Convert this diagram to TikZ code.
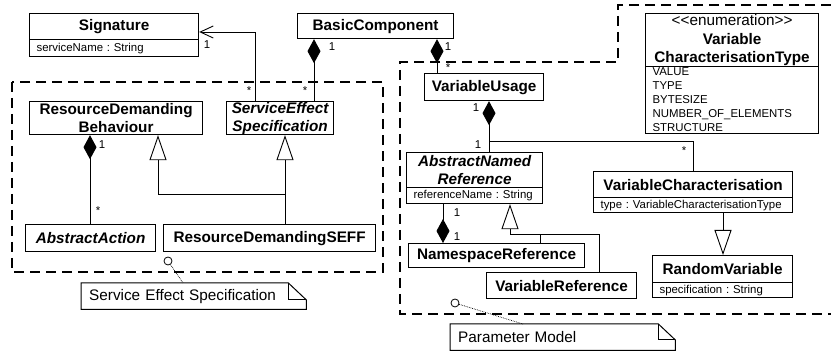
\documentclass[tikz,border=0pt]{standalone}
\usepackage{fontspec}
\setmainfont[Ligatures=NoCommon]{Liberation Sans}
\usetikzlibrary{arrows.meta,calc}
\newcommand\namefont{\fontsize{15.3}{18}\selectfont\bfseries}
\newcommand\attrfont{\fontsize{11.4}{14}\selectfont}
\newcommand\notefont{\fontsize{15.3}{18}\selectfont}
\frenchspacing
\begin{document}
\begin{tikzpicture}[x=1pt,y=-1pt,
  cls/.style={draw, line width=1.2pt, fill=white, inner sep=0pt, anchor=north west, font=\namefont, align=center},
  attr/.style={draw, line width=1.2pt, fill=white, inner xsep=7pt, inner ysep=0pt, anchor=north west, font=\attrfont, align=left},
  conn/.style={line width=0.9pt},
  comp/.style={conn, {Diamond[length=24pt,width=13pt]}-},
  compend/.style={conn, -{Diamond[length=24pt,width=13pt]}},
  gen/.style={conn, -{Triangle[open,length=25pt,width=17pt,fill=white]}},
  nav/.style={conn, -{Straight Barb[length=13pt,width=12pt]}},
  mult/.style={font=\attrfont, inner sep=0pt},
  frame/.style={line width=1.3pt, dash pattern=on 10pt off 6pt},
  pin/.style={circle, draw, line width=0.8pt, fill=white, minimum size=8pt, inner sep=0pt},
  pinline/.style={line width=0.7pt, densely dotted},
  notebox/.style={inner xsep=8pt, inner ysep=0pt, anchor=north west, font=\notefont, align=left},
  notedraw/.style={line width=1pt}
]
\useasboundingbox (0,0) rectangle (831,352);

% frames
\draw[frame] (12,82) rectangle (383,272);
\draw[frame] (831,5) -- (618,5) -- (618,62) -- (400,62) -- (400,314) -- (831,314);

% classes
\node[cls, minimum width=169pt, minimum height=26pt] (sig) at (29,13) {Signature};
\node[attr, text width=155pt, minimum height=17pt] (sigA) at (29,39) {serviceName : String};
\node[cls, minimum width=156pt, minimum height=25pt] (bc) at (297,13) {BasicComponent};
\node[cls, minimum width=173pt, minimum height=33pt] (rdb) at (29,101) {ResourceDemanding\\Behaviour};
\node[cls, minimum width=107pt, minimum height=33pt] (seff) at (226,101) {\itshape ServiceEffect\\\itshape Specification};
\node[cls, minimum width=130pt, minimum height=27pt] (aa) at (25,224) {\itshape AbstractAction};
\node[cls, minimum width=212pt, minimum height=27pt] (rdseff) at (163,224) {ResourceDemandingSEFF};
\node[cls, minimum width=119pt, minimum height=27pt] (vu) at (424,73) {VariableUsage};
\node[cls, minimum width=173pt, minimum height=53pt] (en) at (645,13) {{\mdseries\notefont \textless{}\textless{}enumeration\textgreater{}\textgreater}\\[1pt]Variable\\CharacterisationType};
\node[attr, text width=159pt, minimum height=67pt] (enA) at (645,66) {VALUE\\TYPE\\BYTESIZE\\NUMBER\_OF\_ELEMENTS\\STRUCTURE};
\node[cls, minimum width=136pt, minimum height=35pt] (anr) at (406,152) {\itshape AbstractNamed\\\itshape Reference};
\node[attr, text width=122pt, minimum height=16pt] (anrA) at (406,187) {referenceName : String};
\node[cls, minimum width=199pt, minimum height=26pt] (vc) at (593,171) {VariableCharacterisation};
\node[attr, text width=185pt, minimum height=15pt] (vcA) at (593,197) {type : VariableCharacterisationType};
\node[cls, minimum width=140pt, minimum height=27pt] (rv) at (652,255) {RandomVariable};
\node[attr, text width=126pt, minimum height=15pt] (rvA) at (652,282) {specification : String};
\node[cls, minimum width=176pt, minimum height=24pt] (nr) at (408,243) {NamespaceReference};
\node[cls, minimum width=150pt, minimum height=26pt] (vr) at (486,272) {VariableReference};

% connectors
\draw[nav] ($(seff.north west)+(29,0)$) |- ($(sig.north east)+(0,19)$);
\coordinate (a1) at ($(bc.south west)+(17,0)$);
\draw[comp] (a1) -- (a1 |- seff.north);
\coordinate (a2) at ($(bc.south west)+(140,0)$);
\draw[comp] (a2) -- (a2 |- vu.north);
\coordinate (a3) at ($(rdb.south west)+(61,0)$);
\draw[comp] (a3) -- (a3 |- aa.north);
\coordinate (g1) at ($(seff.south west)+(59,0)$);
\draw[gen] (g1 |- rdseff.north) -- (g1);
\coordinate (g2) at ($(rdb.south west)+(129,0)$);
\coordinate (j1) at ($(rdseff.north west)+(122,-30)$);
\draw[gen] (j1) -| (g2);
\coordinate (v1) at ($(vu.south west)+(65,0)$);
\draw[comp] (v1) -- (v1 |- anr.north);
\coordinate (j2) at ($(v1)+(0,40)$);
\draw[conn] (j2) -| (vc.north);
\coordinate (a4) at ($(anrA.south west)+(37,0)$);
\draw[compend] (a4) -- (a4 |- nr.north);
\coordinate (g3) at ($(anrA.south west)+(104,0)$);
\coordinate (j3) at ($(g3)+(0,30)$);
\draw[gen] (j3) -- (g3);
\coordinate (k1) at ($(vr.north west)+(113,0)$);
\draw[conn] (j3) -| (k1);
\coordinate (k2) at ($(nr.north west)+(132,0)$);
\draw[conn] (k2 |- j3) -- (k2);
\coordinate (b1) at ($(vcA.south west)+(130,0)$);
\draw[gen] (b1) -- (b1 |- rv.north);

% multiplicities
\node[mult] (m1) at (207,45) {1};
\node[mult] (m2) at (249,91) {*};
\node[mult] (m3) at (332,47) {1};
\node[mult] (m4) at (305,91) {*};
\node[mult] (m5) at (448,47) {1};
\node[mult] (m6) at (448,68) {*};
\node[mult] (m7) at (102,145) {1};
\node[mult] (m8) at (98,211) {*};
\node[mult] (m9) at (476,108) {1};
\node[mult] (m10) at (478,145) {1};
\node[mult] (m11) at (684,151) {*};
\node[mult] (m12) at (457,213) {1};
\node[mult] (m13) at (457,237) {1};

% notes
\node[notebox, minimum width=225pt, minimum height=26pt, text width=209pt] (note1) at (81,283) {Service Effect Specification};
\draw[notedraw] (note1.north west) -- ($(note1.north east)+(-18,0)$) -- ($(note1.north east)+(0,17)$) -- (note1.south east) -- (note1.south west) -- cycle;
\draw[notedraw] ($(note1.north east)+(-18,0)$) -- ($(note1.north east)+(-18,17)$) -- ($(note1.north east)+(0,17)$);
\node[pin] (pin1) at (168,261) {};
\draw[pinline] (pin1) -- ($(note1.north west)+(102,0)$);

\node[notebox, minimum width=225pt, minimum height=26pt, text width=209pt] (note2) at (450,324) {Parameter Model};
\draw[notedraw] (note2.north west) -- ($(note2.north east)+(-17,0)$) -- ($(note2.north east)+(0,16)$) -- (note2.south east) -- (note2.south west) -- cycle;
\draw[notedraw] ($(note2.north east)+(-17,0)$) -- ($(note2.north east)+(-17,16)$) -- ($(note2.north east)+(0,16)$);
\node[pin] (pin2) at (455,303) {};
\draw[pinline] (pin2) -- ($(note2.north west)+(73,0)$);
\end{tikzpicture}
\end{document}
